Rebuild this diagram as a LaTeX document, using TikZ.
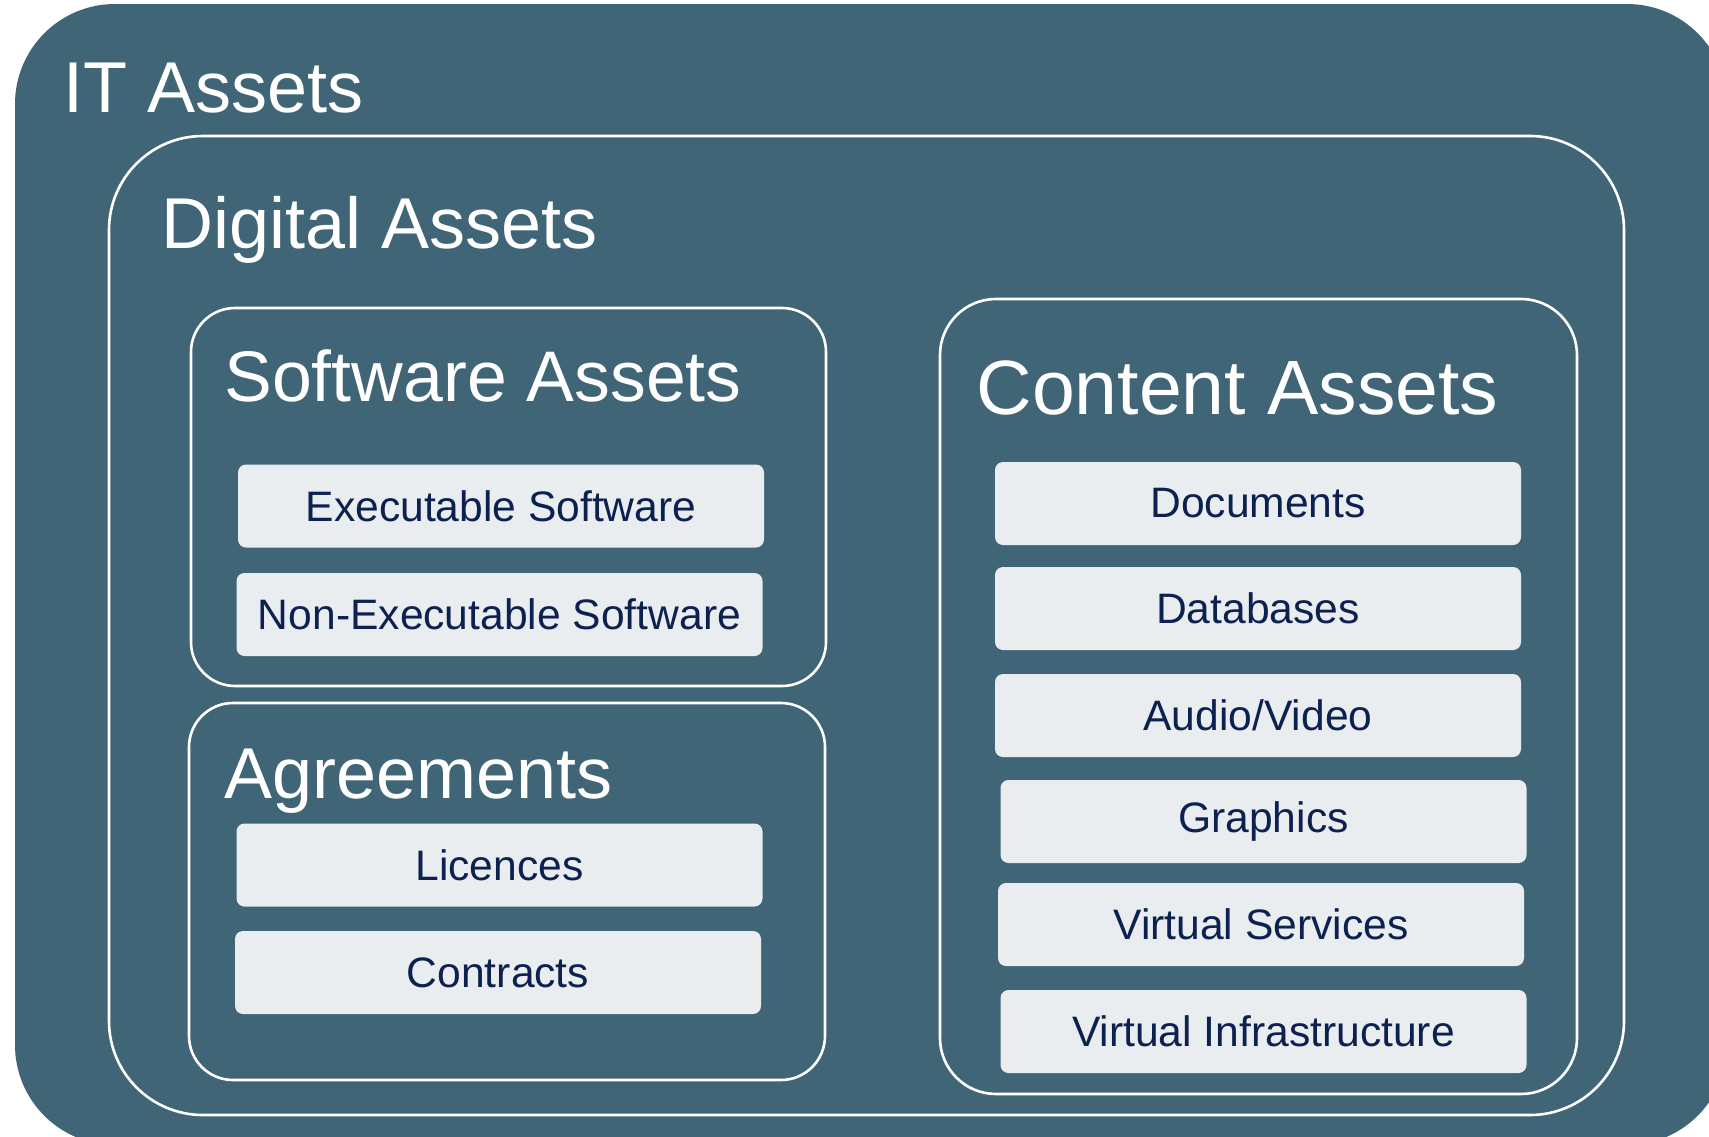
\documentclass[tikz,border=0pt]{standalone}
\usepackage{fontspec}
\setmainfont{Liberation Sans}
\usepackage{tikz}
\usetikzlibrary{positioning}

\definecolor{assetblue}{RGB}{64,101,119}
\definecolor{itemgrey}{RGB}{233,237,240}
\definecolor{itemtext}{RGB}{13,33,80}

\begin{document}
\begin{tikzpicture}
		[x=0.5pt,y=-0.5pt,
		grp/.style={draw=white,line width=1.3pt,minimum width=#1},
		title/.style={anchor=base west,inner sep=0pt,text=white,font=\fontsize{36}{43}\selectfont},
		item/.style={fill=itemgrey,rounded corners=4pt,minimum width=263pt,minimum height=41.5pt,inner sep=0pt,text=itemtext,font=\fontsize{21.3}{25}\selectfont}]
		\useasboundingbox (0,0) rectangle (1709,1136);
		\clip (0,0) rectangle (1709,1136);
		\fill[white] (0,0) rectangle (1709,1136);
		
		% nested groups
		\node[fill=assetblue,rounded corners=50pt,minimum width=856pt,minimum height=570.5pt] (it) at (871,574.5) {};
		\node[grp=757.5pt,rounded corners=47pt,minimum height=489.5pt] (digital) at (866.5,625.5) {};
		\node[grp=317.5pt,rounded corners=22pt,minimum height=189pt] (software) at (508.5,497) {};
		\node[grp=318pt,rounded corners=22pt,minimum height=188.5pt] (agree) at (507,891.5) {};
		\node[grp=318.5pt,rounded corners=28pt,minimum height=397.5pt] (content) at (1258.5,696.5) {};
		
		\node[title] (itT) at (63,112) {IT Assets};
		\node[title] (digitalT) at (161,248) {Digital Assets};
		\node[title,font=\fontsize{35.8}{43}\selectfont] (softwareT) at (224,401) {Software Assets};
		\node[title] (agreeT) at (224,798) {Agreements};
		\node[title,font=\fontsize{38.5}{46}\selectfont] (contentT) at (976,414) {Content Assets};
		
		% items
		\node[item] (exe) at (501,506) {Executable Software};
		\node[item] (nonexe) at (499.5,614.5) {Non-Executable Software};
		\node[item] (lic) at (499.5,865) {Licences};
		\node[item] (con) at (498,972.5) {Contracts};
		\node[item] (doc) at (1258,503.5) {Documents};
		\node[item] (db) at (1258,608.5) {Databases};
		\node[item] (av) at (1258,715.5) {Audio/Video};
		\node[item] (gfx) at (1263.5,821.5) {Graphics};
		\node[item] (vs) at (1261,924.5) {Virtual Services};
		\node[item] (vi) at (1263.5,1031.5) {Virtual Infrastructure};
		\end{tikzpicture}
\end{document}
